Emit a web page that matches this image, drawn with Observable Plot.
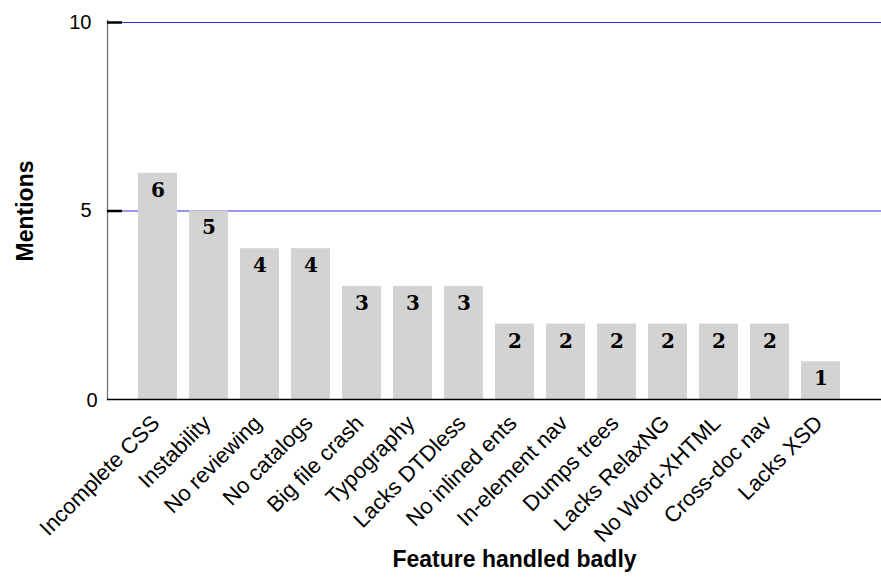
<!DOCTYPE html>
<html>
<head>
<meta charset="utf-8">
<script src="https://cdn.jsdelivr.net/npm/d3@7"></script>
<script src="https://cdn.jsdelivr.net/npm/@observablehq/plot@0.6"></script>
<style>
  html, body { margin: 0; padding: 0; background: #fff; }
  #chart svg { display: block; }
</style>
</head>
<body>
<div id="chart"></div>
<script>
const categories = ["Incomplete CSS", "Instability", "No reviewing", "No catalogs", "Big file crash", "Typography", "Lacks DTDless", "No inlined ents", "In-element nav", "Dumps trees", "Lacks RelaxNG", "No Word-XHTML", "Cross-doc nav", "Lacks XSD"];
const mentions = [6, 5, 4, 4, 3, 3, 3, 2, 2, 2, 2, 2, 2, 1];
const yTicksUpper = [5, 10];
const yTicksZero = [0];
const gridValues = [5, 10];
const xTitle = "Feature handled badly";
const yTitle = "Mentions";

const data = categories.map((name, i) => ({name, value: mentions[i]}));

const chart = Plot.plot({
  width: 881,
  height: 579,
  marginLeft: 107,
  marginRight: 0,
  marginTop: 22,
  marginBottom: 180,
  style: {fontFamily: "Liberation Sans, Arial, sans-serif", fontSize: "20px", background: "white", color: "black"},
  x: {domain: categories, range: [126, 853], padding: 0.235, label: null},
  y: {domain: [0, 10], label: null},
  marks: [
    Plot.ruleY(gridValues, {stroke: "#2f2fe0", strokeWidth: 1.2}),
    Plot.barY(data, {x: "name", y: "value", fill: "#d3d3d3"}),
    Plot.frame({anchor: "left", stroke: "#7a7a7a", strokeWidth: 1.4, insetTop: -2}),
    Plot.ruleY([0], {stroke: "black", strokeWidth: 1.5}),
    Plot.ruleY(gridValues, {stroke: "black", strokeWidth: 2.5, insetRight: 759}),
    Plot.text(data, {x: "name", y: "value", text: d => String(d.value), dy: 17, fontFamily: "DejaVu Serif", fontWeight: "bold", fontSize: 20, fill: "black"}),
    Plot.axisY({ticks: yTicksUpper, tickSize: 0, tickPadding: 16, fontSize: 20, label: null}),
    Plot.axisY({ticks: yTicksZero, tickSize: 0, tickPadding: 10, fontSize: 20, dy: 1, label: null}),
    Plot.axisX({tickRotate: -45, tickSize: 0, tickPadding: 20, fontSize: 22, dx: -2, label: null}),
    Plot.text([xTitle], {frameAnchor: "bottom", text: d => d, dx: 20, dy: 167, fontWeight: "bold", fontSize: 23, fill: "black"}),
    Plot.text([yTitle], {frameAnchor: "left", textAnchor: "middle", text: d => d, dx: -82, rotate: -90, fontWeight: "bold", fontSize: 23, fill: "black"})
  ]
});
document.getElementById("chart").appendChild(chart);
</script>
</body>
</html>
